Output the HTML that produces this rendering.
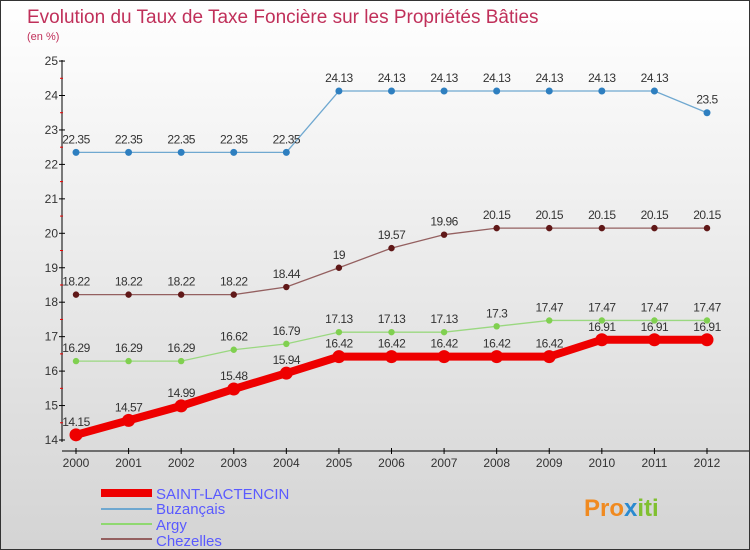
<!DOCTYPE html>
<html><head><meta charset="utf-8"><style>
body{margin:0}
#c{width:750px;height:550px;position:relative;overflow:hidden;box-sizing:border-box;border:1px solid #333;background:linear-gradient(#fff,#d4d4d4);font-family:"Liberation Sans",sans-serif}
svg text{font-family:"Liberation Sans",sans-serif}
</style></head><body>
<div id="c">
<svg id="s" width="750" height="550">
<text x="26" y="22" font-size="19" fill="#c0305a">Evolution du Taux de Taxe Foncière sur les Propriétés Bâties</text>
<text x="26" y="39" font-size="11" fill="#c0305a">(en %)</text>
<g id="axes"></g><g id="series"></g>
<g>
<rect x="100" y="488" width="51" height="8" fill="#e00"/>
<text x="155" y="498" font-size="15" fill="#5a5aff">SAINT-LACTENCIN</text>
<rect x="100" y="507" width="51" height="2" fill="#6fa8d0"/>
<text x="155" y="513" font-size="15" fill="#5a5aff">Buzançais</text>
<rect x="100" y="522" width="51" height="2" fill="#8fd870"/>
<text x="155" y="529" font-size="15" fill="#5a5aff">Argy</text>
<rect x="100" y="537" width="51" height="2" fill="#946060"/>
<text x="155" y="545" font-size="15" fill="#5a5aff">Chezelles</text>
</g>
<text x="583" y="515" font-size="24" font-weight="bold" fill="#f08a20">Pro<tspan fill="#2a8ad0">x</tspan><tspan fill="#80c030">iti</tspan></text>
</svg>
</div>
<script>
const years=[2000,2001,2002,2003,2004,2005,2006,2007,2008,2009,2010,2011,2012];
const yTicks=[14,15,16,17,18,19,20,21,22,23,24,25];
const saint=[14.15,14.57,14.99,15.48,15.94,16.42,16.42,16.42,16.42,16.42,16.91,16.91,16.91];
const buzancais=[22.35,22.35,22.35,22.35,22.35,24.13,24.13,24.13,24.13,24.13,24.13,24.13,23.5];
const argy=[16.29,16.29,16.29,16.62,16.79,17.13,17.13,17.13,17.3,17.47,17.47,17.47,17.47];
const chezelles=[18.22,18.22,18.22,18.22,18.44,19,19.57,19.96,20.15,20.15,20.15,20.15,20.15];
const NS="http://www.w3.org/2000/svg";
const X=i=>75+i*(706-75)/(years.length-1);
const Y=v=>439-(v-14)*34.45;
function mk(t,a,p){const e=document.createElementNS(NS,t);for(const k in a)e.setAttribute(k,a[k]);p.appendChild(e);return e;}
const ax=document.getElementById('axes');
let e=mk('line',{x1:61,y1:59,x2:61,y2:441,stroke:'#000'},ax);


e=mk('line',{x1:61,y1:450,x2:750,y2:450,stroke:'#000'},ax);


yTicks.forEach(v=>{
 mk('line',{x1:58,y1:Y(v),x2:64,y2:Y(v),stroke:'#000'},ax);
 if(v<25)mk('line',{x1:59,y1:Y(v+0.5),x2:62,y2:Y(v+0.5),stroke:'#e00'},ax);
 const t=mk('text',{x:57,y:Y(v)+4,'font-size':12,fill:'#333','text-anchor':'end'},ax);t.textContent=v;
 
 
});
years.forEach((y,i)=>{
 mk('line',{x1:X(i),y1:447,x2:X(i),y2:453,stroke:'#000'},ax);
 const t=mk('text',{x:X(i),y:466,'font-size':12,fill:'#333','text-anchor':'middle'},ax);t.textContent=y;
 
 
});
const sg=document.getElementById('series');
function series(d,name,color,w,r,fill){
 const g=mk('g',{},sg);
 
 
 mk('polyline',{points:d.map((v,i)=>X(i)+','+Y(v)).join(' '),fill:'none',stroke:color,'stroke-width':w},g);
 d.forEach((v,i)=>{
  const c=mk('circle',{cx:X(i),cy:Y(v),r:r,fill:fill},g);
  
  
  const t=mk('text',{x:X(i),y:Y(v)-9,'font-size':12,fill:'#333','text-anchor':'middle','letter-spacing':'-0.5'},g);t.textContent=v;
  
  
 });
}
series(buzancais,'buzancais','#6fa8d0',1.3,3.5,'#2e7fc0');
series(chezelles,'chezelles','#946060',1.3,3.2,'#601818');
series(argy,'argy','#9ad880',1.3,3.2,'#80d050');
series(saint,'saint-lactencin','#ee0000',8,6.5,'#ee0000');
</script>
</body></html>
